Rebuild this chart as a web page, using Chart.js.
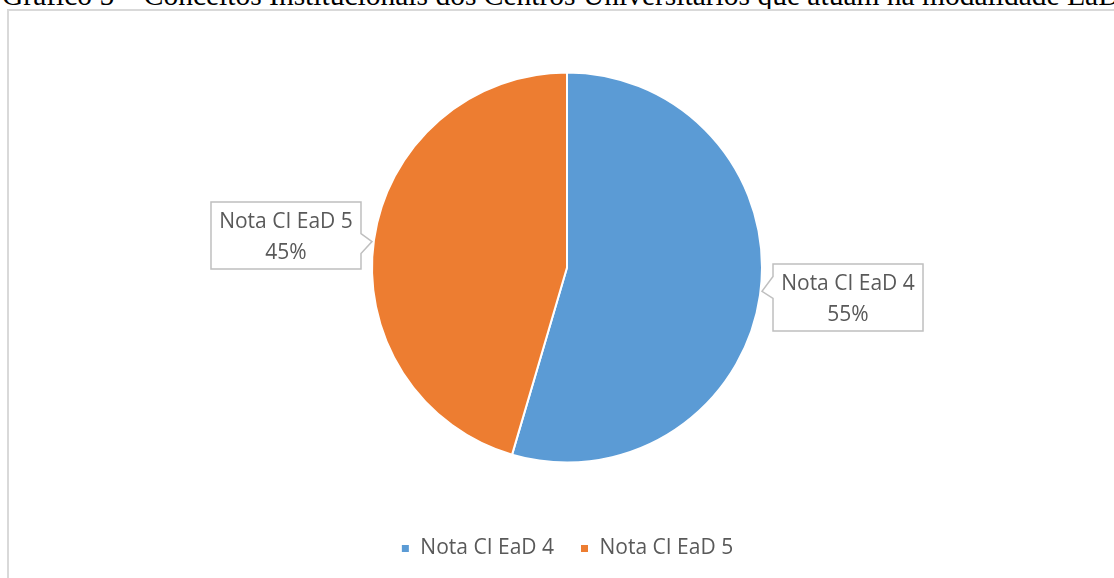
<!DOCTYPE html>
<html>
<head>
<meta charset="utf-8">
<script src="https://cdn.jsdelivr.net/npm/chart.js@4.4.1/dist/chart.umd.min.js"></script>
<style>
  html, body { margin: 0; padding: 0; width: 1114px; height: 578px; overflow: hidden; background: #fff; }
  #title { position: absolute; left: 2px; top: -21px; white-space: nowrap; font-family: "Liberation Serif", "Times New Roman", serif; font-size: 29.5px; color: #000; }
  #frame { position: absolute; left: 7px; top: 9px; width: 1130px; height: 600px; border: 2px solid #d9d9d9; box-sizing: border-box; }
  #wrap { position: absolute; left: 0; top: 0; width: 1114px; height: 578px; }
</style>
</head>
<body>
<div id="title">Gráfico 5 – Conceitos Institucionais dos Centros Universitários que atuam na modalidade EaD</div>
<div id="frame"></div>
<div id="wrap"><canvas id="pieChart"></canvas></div>
<script>
const labels = ['Nota CI EaD 4', 'Nota CI EaD 5'];
const values = [12, 10];
const colors = ['#5b9bd5', '#ed7d31'];

const textColor = '#595959';
const fontFamily = '"Open Sans", "Noto Sans", sans-serif';

// callout boxes next to each slice
const calloutPlugin = {
    id: 'callouts',
    afterDatasetsDraw(chart) {
        const ctx = chart.ctx;
        const meta = chart.getDatasetMeta(0);
        const total = values.reduce((a, b) => a + b, 0);
        meta.data.forEach((arc, i) => {
            const p = arc.getProps(['x', 'y', 'startAngle', 'endAngle', 'outerRadius']);
            const mid = (p.startAngle + p.endAngle) / 2;
            const ex = p.x + Math.cos(mid) * (p.outerRadius + 1);
            const ey = p.y + Math.sin(mid) * (p.outerRadius + 1);
            const w = 150, h = 67;
            const right = Math.cos(mid) > 0;
            const bx = right ? ex + 12 : ex - 12 - w;
            const by = ey - h / 2 + (right ? 2 : -4);
            const side = right ? bx : bx + w;

            ctx.save();
            ctx.beginPath();
            ctx.moveTo(bx, by);
            ctx.lineTo(bx + w, by);
            if (!right) {
                ctx.lineTo(side, ey - 6);
                ctx.lineTo(ex - 1, ey + 2);
                ctx.lineTo(side, ey + 14);
            }
            ctx.lineTo(bx + w, by + h);
            ctx.lineTo(bx, by + h);
            if (right) {
                ctx.lineTo(side, ey + 3);
                ctx.lineTo(ex + 1, ey - 4);
                ctx.lineTo(side, ey - 19);
            }
            ctx.closePath();
            ctx.fillStyle = '#ffffff';
            ctx.fill();
            ctx.strokeStyle = '#bfbfbf';
            ctx.lineWidth = 1.5;
            ctx.stroke();

            ctx.fillStyle = textColor;
            ctx.font = '21px ' + fontFamily;
            ctx.textAlign = 'center';
            ctx.textBaseline = 'middle';
            const pct = Math.round(values[i] / total * 100) + '%';
            ctx.fillText(labels[i], bx + w / 2, by + 20);
            ctx.fillText(pct, bx + w / 2, by + 51);
            ctx.restore();
        });
    }
};

const ctx = document.getElementById('pieChart').getContext('2d');
const chart = new Chart(ctx, {
    type: 'pie',
    data: {
        labels: labels,
        datasets: [{
            data: values,
            backgroundColor: colors,
            borderColor: '#ffffff',
            borderWidth: 2
        }]
    },
    options: {
        responsive: true,
        maintainAspectRatio: false,
        animation: false,
        radius: 195,
        layout: { padding: { top: 23, bottom: 9, left: 20, right: 0 } },
        plugins: {
            legend: {
                position: 'bottom',
                labels: {
                    color: textColor,
                    font: { family: fontFamily, size: 21 },
                    boxWidth: 9,
                    boxHeight: 9,
                    padding: 26
                }
            },
            tooltip: { enabled: false }
        }
    },
    plugins: [calloutPlugin]
});
</script>
</body>
</html>
